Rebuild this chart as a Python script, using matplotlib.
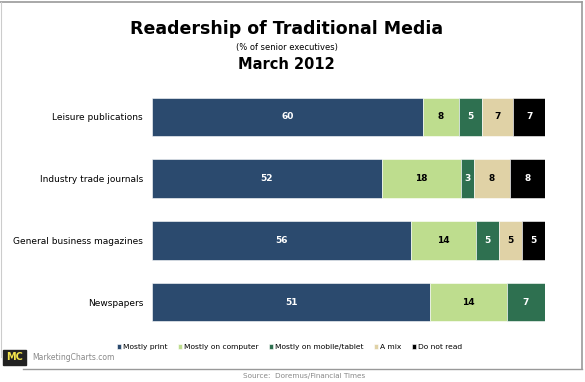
import numpy as np
import matplotlib.pyplot as plt
from matplotlib.patches import Rectangle

categories = ["Leisure publications", "Industry trade journals",
              "General business magazines", "Newspapers"]
series = ["Mostly print", "Mostly on computer", "Mostly on mobile/tablet",
          "A mix", "Do not read"]
values = {
    "Mostly print": [60, 52, 56, 51],
    "Mostly on computer": [8, 18, 14, 14],
    "Mostly on mobile/tablet": [5, 3, 5, 7],
    "A mix": [7, 8, 5, 0],
    "Do not read": [7, 8, 5, 0],
}
colors = ["#2B4A6E", "#BEDD8E", "#2E7050", "#E0D2A6", "#000000"]
text_colors = ["white", "black", "white", "black", "white"]

fig = plt.figure(figsize=(5.85, 3.82), dpi=100)
ax = fig.add_axes([0.26, 0.128, 0.6716, 0.6475])

data = np.array([values[s] for s in series], dtype=float)
totals = data.sum(axis=0)
shares = data / totals * 100
y = np.arange(len(categories))
left = np.zeros(len(categories))
for i, s in enumerate(series):
    ax.barh(y, shares[i], left=left, height=0.62, color=colors[i],
            edgecolor="white", linewidth=0.4, label=s)
    for j in range(len(categories)):
        if data[i, j] > 0:
            ax.text(left[j] + shares[i, j] / 2, y[j], f"{int(data[i, j])}",
                    ha="center", va="center", fontsize=6.5, fontweight="bold",
                    color=text_colors[i])
    left += shares[i]

ax.set_xlim(0, 100)
ax.set_ylim(3.5, -0.5)
ax.set_yticks(y)
ax.set_yticklabels(categories, fontsize=6.5)
ax.tick_params(axis="y", length=0, pad=6.5)
ax.set_xticks([])
for sp in ax.spines.values():
    sp.set_visible(False)

fig.text(0.49, 0.925, "Readership of Traditional Media", ha="center",
         va="center", fontsize=12.5, fontweight="bold")
fig.text(0.49, 0.875, "(% of senior executives)", ha="center", va="center",
         fontsize=6)
fig.text(0.49, 0.832, "March 2012", ha="center", va="center",
         fontsize=10.5, fontweight="bold")

leg = fig.legend(loc="center", bbox_to_anchor=(0.495, 0.092), ncol=5,
                 frameon=False, fontsize=5.4, handlelength=0.6,
                 handleheight=0.6, handletextpad=0.3, columnspacing=1.3)

# frame and footer
fig.add_artist(plt.Line2D([0.0, 0.995], [0.995, 0.995], color="#999999", lw=1.2))
fig.add_artist(plt.Line2D([0.995, 0.995], [0.995, 0.035], color="#999999", lw=1.2))
fig.add_artist(plt.Line2D([0.04, 0.995], [0.035, 0.035], color="#999999", lw=1.0))
fig.add_artist(plt.Line2D([0.002, 0.002], [0.995, 0.065], color="#cccccc", lw=0.8))
fig.add_artist(Rectangle((0.005, 0.045), 0.04, 0.04, transform=fig.transFigure,
                         color="#222222"))
fig.text(0.025, 0.065, "MC", ha="center", va="center", fontsize=7,
         fontweight="bold", color="#F2E34C")
fig.text(0.055, 0.065, "MarketingCharts.com", ha="left", va="center",
         fontsize=5.5, color="#888888")
fig.text(0.52, 0.017, "Source:  Doremus/Financial Times", ha="center",
         va="center", fontsize=5.2, color="#888888")

fig.savefig("out.png", dpi=100)
